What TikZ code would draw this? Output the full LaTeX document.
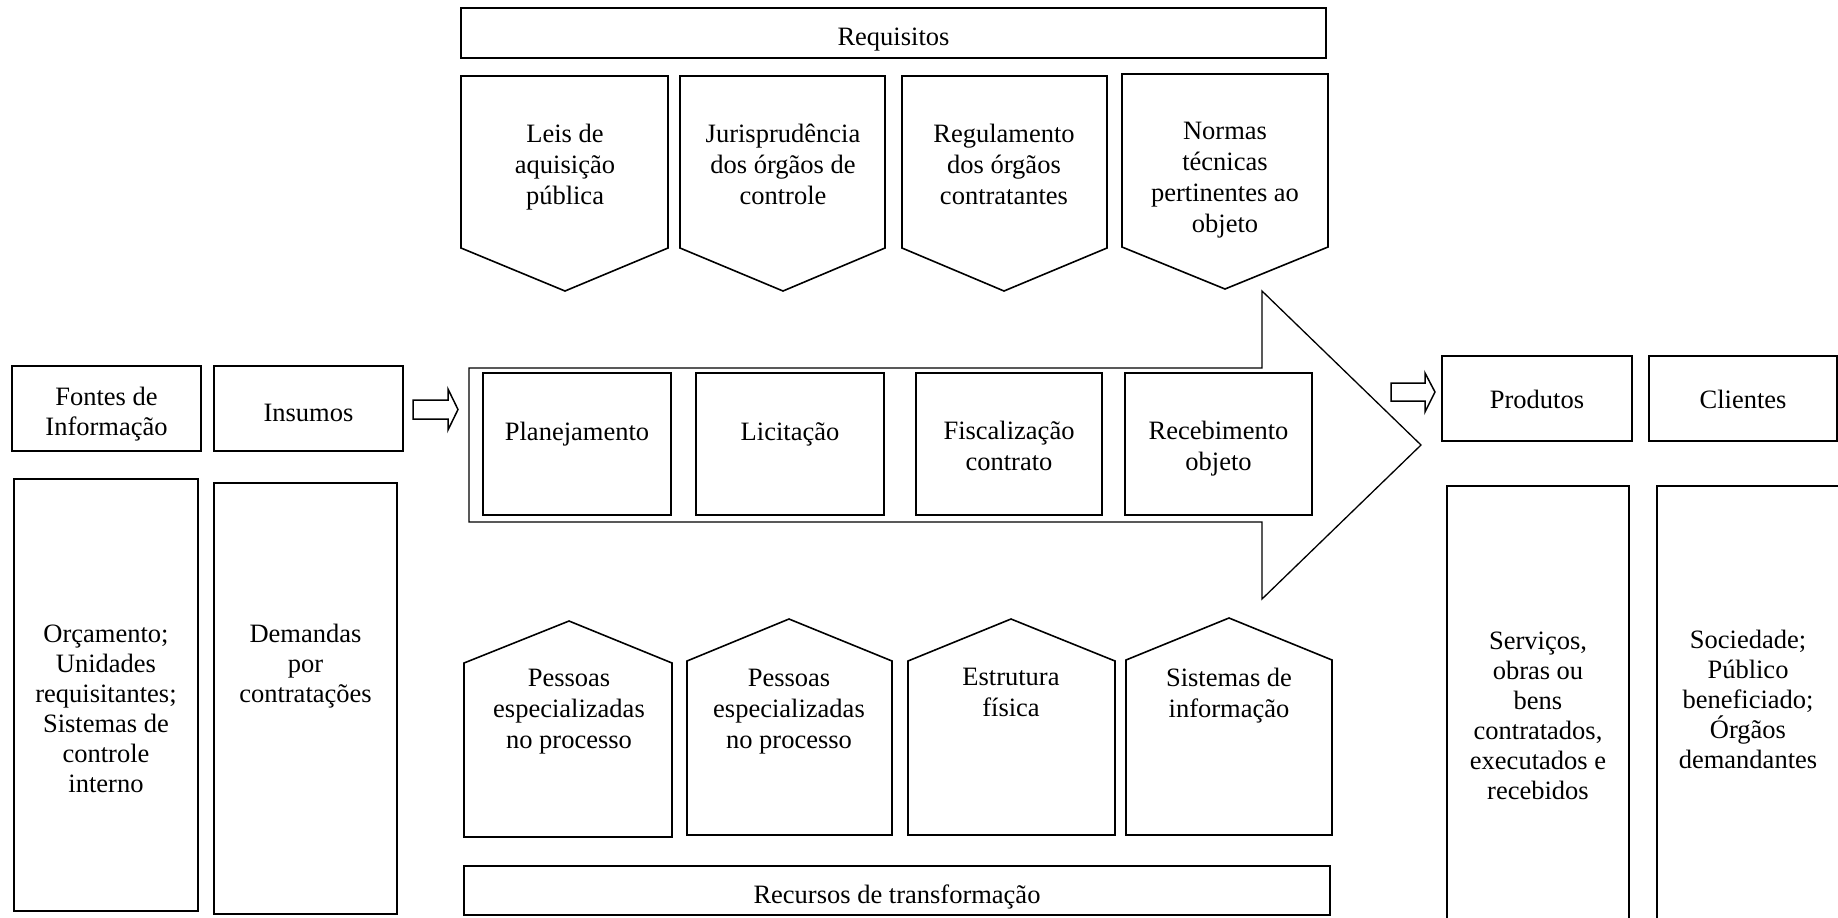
\documentclass[tikz,border=0pt]{standalone}
\usepackage{fontspec}
\setmainfont{Liberation Serif}

% rectangle node given by its corners (in px units of the picture)
\newcommand\pbox[5]{%
  \node[box, minimum width={(#4-#2)*0.5pt}, minimum height={(#5-#3)*0.5pt}]
    (#1) at ({(#2+#4)/2},{(#3+#5)/2}) {};}

\begin{document}
\begin{tikzpicture}[x=0.5pt,y=-0.5pt,
  box/.style={draw, line width=0.9pt, rectangle, inner sep=0pt, outer sep=0pt},
  tagline/.style={draw, line width=0.8pt, line join=miter},
  flowline/.style={draw, line width=0.65pt, line join=miter},
  hollow/.style={draw, line width=0.75pt, line join=miter, fill=white},
  txt/.style={align=center, inner sep=0pt, yshift=-2pt,
    font=\fontsize{13.25pt}{15pt}\selectfont,
    execute at begin node=\strut, execute at end node=\strut},
  midtxt/.style={txt, font=\fontsize{13.25pt}{15.5pt}\selectfont}]

\useasboundingbox (0,0) rectangle (1838,917);
\clip (0,0) rectangle (1838,917);

% ---------- requirements (top) ----------
\pbox{req}{461}{8}{1326}{58}
\node[midtxt] (treq) at (893.5,35) {Requisitos};

\draw[tagline] (461,76) -- (668,76) -- (668,248) -- (565,291) -- (461,248) -- cycle;
\draw[tagline] (680,76) -- (885,76) -- (885,248) -- (783,291) -- (680,248) -- cycle;
\draw[tagline] (902,76) -- (1107,76) -- (1107,248) -- (1004,291) -- (902,248) -- cycle;
\draw[tagline] (1122,74) -- (1328,74) -- (1328,247) -- (1225,289) -- (1122,247) -- cycle;
\node[midtxt] (tleis)  at (565,165)  {Leis de\\aquisição\\pública};
\node[midtxt] (tjur)   at (783,165)  {Jurisprudência\\dos órgãos de\\controle};
\node[midtxt] (treg)   at (1004,165) {Regulamento\\dos órgãos\\contratantes};
\node[midtxt] (tnorm)  at (1225,178) {Normas\\técnicas\\pertinentes ao\\objeto};

% ---------- process arrow ----------
\draw[flowline] (469,368) -- (1262,368) -- (1262,291) -- (1421,445)
  -- (1262,599) -- (1262,522) -- (469,522) -- cycle;
\pbox{plan}{483}{373}{671}{515}
\pbox{lic}{696}{373}{884}{515}
\pbox{fisc}{916}{373}{1102}{515}
\pbox{rec}{1125}{373}{1312}{515}
\node[midtxt] (tplan) at (577,430)  {Planejamento};
\node[midtxt] (tlic)  at (790,430)  {Licitação};
\node[midtxt] (tfisc) at (1009,446) {Fiscalização\\contrato};
\node[midtxt] (trec)  at (1218.5,446) {Recebimento\\objeto};

% ---------- transformation resources (bottom) ----------
\draw[tagline] (464,837) -- (464,663) -- (569,621) -- (672,663) -- (672,837) -- cycle;
\draw[tagline] (687,835) -- (687,661) -- (789,619) -- (892,661) -- (892,835) -- cycle;
\draw[tagline] (908,835) -- (908,661) -- (1011,619) -- (1115,661) -- (1115,835) -- cycle;
\draw[tagline] (1126,835) -- (1126,660) -- (1229,618) -- (1332,660) -- (1332,835) -- cycle;
\node[midtxt] (tpes1) at (569,709)  {Pessoas\\especializadas\\no processo};
\node[midtxt] (tpes2) at (789,709)  {Pessoas\\especializadas\\no processo};
\node[midtxt] (test)  at (1011,693) {Estrutura\\física};
\node[midtxt] (tsis)  at (1229,693) {Sistemas de\\informação};

\pbox{recur}{464}{866}{1330}{915}
\node[midtxt] (trecur) at (897,893) {Recursos de transformação};

% ---------- inputs (left) ----------
\pbox{fontes}{12}{366}{201}{451}
\pbox{insumos}{214}{366}{403}{451}
\node[txt] (tfontes)  at (106.5,412) {Fontes de\\Informação};
\node[txt] (tinsumos) at (308.5,411) {Insumos};
\pbox{orc}{14}{479}{198}{911}
\pbox{dem}{214}{483}{397}{914}
\node[txt] (torc) at (106,709) {Orçamento;\\Unidades\\requisitantes;\\Sistemas de\\controle\\interno};
\node[txt] (tdem) at (305.5,664) {Demandas\\por\\contratações};

\draw[hollow] (413,400) -- (448,400) -- (448,389) -- (458,409.5)
  -- (448,430) -- (448,419) -- (413,419) -- cycle;

% ---------- outputs (right) ----------
\draw[hollow] (1391,383) -- (1425,383) -- (1425,373) -- (1435,392)
  -- (1425,412) -- (1425,401) -- (1391,401) -- cycle;
\pbox{prod}{1442}{356}{1632}{441}
\pbox{cli}{1649}{356}{1837}{441}
\node[txt] (tprod) at (1537,398) {Produtos};
\node[txt] (tcli)  at (1743,398) {Clientes};
\pbox{serv}{1447}{486}{1629}{960}
\pbox{soc}{1657}{486}{1840}{960}
\node[txt] (tserv) at (1538,716) {Serviços,\\obras ou\\bens\\contratados,\\executados e\\recebidos};
\node[txt] (tsoc)  at (1748,700) {Sociedade;\\Público\\beneficiado;\\Órgãos\\demandantes};

\end{tikzpicture}
\end{document}
